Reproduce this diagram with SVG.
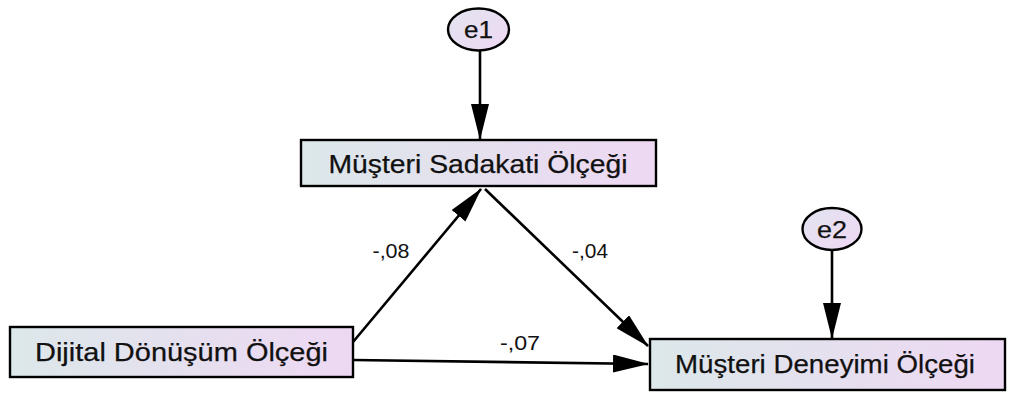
<svg xmlns="http://www.w3.org/2000/svg" width="1010" height="394" viewBox="0 0 1010 394">
  <style>
    .box { stroke: #000; stroke-width: 2.4; fill: url(#fillGrad); }
    .err { stroke: #000; stroke-width: 2.4; fill: url(#errGrad); }
    .lbl { font-family: "Liberation Sans", Arial, sans-serif; font-size: 26px; fill: #111; stroke: #111; stroke-width: 0.25; text-anchor: middle; }
    .elbl { font-family: "Liberation Sans", Arial, sans-serif; font-size: 24px; fill: #111; stroke: #111; stroke-width: 0.25; text-anchor: middle; }
    .coef { font-family: "Liberation Sans", Arial, sans-serif; font-size: 20px; fill: #111; text-anchor: middle; }
    .path { stroke: #000; stroke-width: 2.6; fill: none; marker-end: url(#head); }
  </style>
  <defs>
    <linearGradient id="fillGrad" x1="0" y1="0" x2="1" y2="0">
      <stop offset="0" stop-color="#dce8ea"/>
      <stop offset="1" stop-color="#eed8f3"/>
    </linearGradient>
    <linearGradient id="errGrad" x1="0" y1="0" x2="1" y2="1">
      <stop offset="0" stop-color="#e2e4f0"/>
      <stop offset="1" stop-color="#efd8f3"/>
    </linearGradient>
    <marker id="head" markerUnits="userSpaceOnUse" viewBox="0 0 36 18" refX="35" refY="9" markerWidth="36" markerHeight="18" orient="auto">
      <path d="M0,0 L36,9 L0,18 Z" fill="#000"/>
    </marker>
  </defs>

  <!-- regression paths and error terms -->
  <g id="connectors">
    <line class="path" x1="480" y1="51" x2="480" y2="139"/>
    <line class="path" x1="832" y1="250" x2="832" y2="338"/>
    <line class="path" x1="353" y1="342" x2="481" y2="189"/>
    <line class="path" x1="485" y1="189" x2="648" y2="346"/>
    <line class="path" x1="353" y1="360" x2="648" y2="364"/>
    <text class="coef" x="391" y="258" textLength="37" lengthAdjust="spacingAndGlyphs">-,08</text>
    <text class="coef" x="590" y="258" textLength="36" lengthAdjust="spacingAndGlyphs">-,04</text>
    <text class="coef" x="520" y="350" textLength="40" lengthAdjust="spacingAndGlyphs">-,07</text>
  </g>

  <g id="e1">
    <ellipse class="err" cx="478.5" cy="29.5" rx="30.5" ry="21"/>
    <text class="elbl" x="478.5" y="38" textLength="29" lengthAdjust="spacingAndGlyphs">e1</text>
  </g>

  <g id="e2">
    <ellipse class="err" cx="832" cy="229" rx="29.5" ry="21"/>
    <text class="elbl" x="832" y="238" textLength="30" lengthAdjust="spacingAndGlyphs">e2</text>
  </g>

  <g id="sadakat">
    <rect class="box" x="301" y="140" width="355" height="46"/>
    <text class="lbl" x="478" y="173" textLength="299" lengthAdjust="spacingAndGlyphs">Müşteri Sadakati Ölçeği</text>
  </g>

  <g id="dijital">
    <rect class="box" x="10" y="327" width="343" height="50"/>
    <text class="lbl" x="181.5" y="361" textLength="293" lengthAdjust="spacingAndGlyphs">Dijital Dönüşüm Ölçeği</text>
  </g>

  <g id="deneyim">
    <rect class="box" x="650" y="339" width="355" height="51"/>
    <text class="lbl" x="825" y="373" textLength="300" lengthAdjust="spacingAndGlyphs">Müşteri Deneyimi Ölçeği</text>
  </g>
</svg>
